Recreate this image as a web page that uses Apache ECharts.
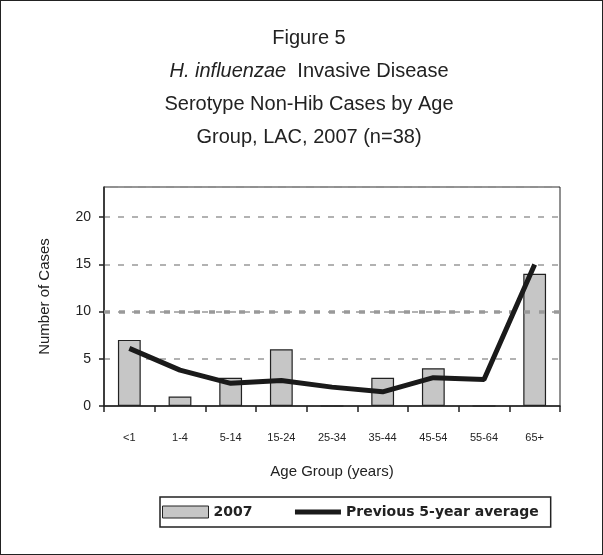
<!DOCTYPE html>
<html>
<head>
<meta charset="utf-8">
<script src="https://cdn.jsdelivr.net/npm/echarts@6/dist/echarts.min.js"></script>
<style>
html,body{margin:0;padding:0;background:#fff;}
#chart{width:601px;height:553px;border:1px solid #222;}
</style>
</head>
<body>
<div id="chart"></div>
<script>
var ageGroups = ['<1', '1-4', '5-14', '15-24', '25-34', '35-44', '45-54', '55-64', '65+'];
var cases2007 = [7, 1, 3, 6, 0, 3, 4, 0, 14];
var prevAvg = [6.1, 3.8, 2.4, 2.7, 2.0, 1.5, 3.0, 2.8, 15.0];
var yTicks = [0, 5, 10, 15, 20];

var chart = echarts.init(document.getElementById('chart'));
var font = 'Liberation Sans, Arial, sans-serif';

var option = {
	animation: false,
	title: {
		text: 'Figure 5\n{i|H. influenzae}  Invasive Disease\nSerotype Non-Hib Cases by Age\nGroup, LAC, 2007 (n=38)',
		left: 303,
		top: 16,
		textAlign: 'center',
		textStyle: {
			fontFamily: font,
			fontSize: 20,
			fontWeight: 'normal',
			color: '#222',
			lineHeight: 33,
			rich: {
				i: { fontFamily: font, fontSize: 20, fontStyle: 'italic', color: '#222', lineHeight: 33 }
			}
		}
	},
	grid: {
		left: 103, right: 42, top: 186, bottom: 148,
		show: true, borderColor: '#222', borderWidth: 1, backgroundColor: '#fff'
	},
	legend: {
		left: 159, top: 496,
		padding: [8, 12, 8, 2],
		borderColor: '#222', borderWidth: 1.5,
		itemGap: 40,
		textStyle: { fontFamily: 'DejaVu Sans, sans-serif', fontSize: 14, fontWeight: 'bold', color: '#222' },
		data: [
			{ name: '2007', icon: 'rect', itemStyle: { borderColor: '#222', borderWidth: 1 } },
			{ name: 'Previous 5-year average', itemStyle: { opacity: 0 }, lineStyle: { width: 5, color: '#1a1a1a' } }
		],
		itemWidth: 46, itemHeight: 12
	},
	xAxis: {
		type: 'category',
		data: ageGroups,
		name: 'Age Group (years)',
		nameLocation: 'middle',
		nameGap: 58,
		nameTextStyle: { fontFamily: font, fontSize: 15, color: '#222' },
		axisLine: { lineStyle: { color: '#222', width: 1.5 } },
		axisTick: { show: true, length: 6, inside: false, lineStyle: { color: '#222', width: 1.5 } },
		axisLabel: { fontFamily: font, fontSize: 11, color: '#222', margin: 26, interval: 0 }
	},
	yAxis: {
		type: 'value',
		min: yTicks[0], max: 23.2, interval: 5,
		name: 'Number of Cases',
		nameLocation: 'middle',
		nameGap: 52,
		nameTextStyle: { fontFamily: font, fontSize: 15, color: '#222' },
		axisLine: { show: true, lineStyle: { color: '#222', width: 1.5 } },
		axisTick: { show: true, length: 5, lineStyle: { color: '#222', width: 1.5 } },
		axisLabel: {
			fontFamily: font, fontSize: 14, color: '#222', margin: 13, showMaxLabel: false,
			formatter: function (v) { return yTicks.indexOf(v) >= 0 ? v : ''; }
		},
		splitLine: {
			show: true,
			lineStyle: { color: '#999', width: 1.5, type: [6, 8] }
		}
	},
	series: [
		{
			name: '2007',
			type: 'bar',
			data: cases2007,
			barWidth: '45%',
			itemStyle: { color: '#c6c6c6', borderColor: '#222', borderWidth: 1.2 },
			markLine: {
				silent: true, symbol: 'none', label: { show: false },
				lineStyle: { color: '#999', width: 3.5, type: [6, 9] },
				data: [{ yAxis: 10 }]
			}
		},
		{
			name: 'Previous 5-year average',
			type: 'line',
			data: prevAvg,
			symbol: 'none',
			lineStyle: { color: '#1a1a1a', width: 5 },
			itemStyle: { color: '#1a1a1a' },
			z: 5
		}
	]
};
chart.setOption(option);
</script>
</body>
</html>
